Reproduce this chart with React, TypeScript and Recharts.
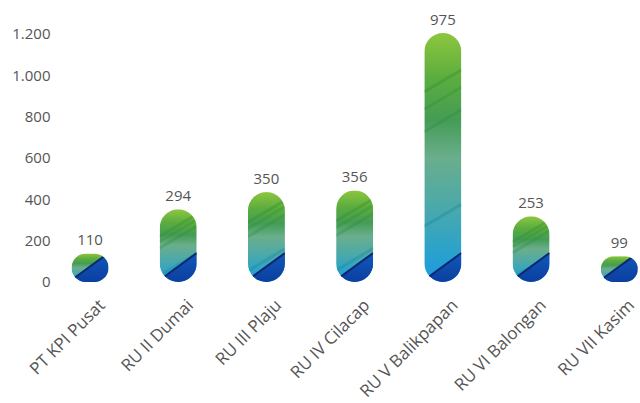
import { BarChart, Bar, XAxis, YAxis, LabelList } from 'recharts';

const units = ['PT KPI Pusat', 'RU II Dumai', 'RU III Plaju', 'RU IV Cilacap', 'RU V Balikpapan', 'RU VI Balongan', 'RU VII Kasim'];
const labels = [110, 294, 350, 356, 975, 253, 99];
// drawn heights as they appear against the axis (taller than the labels)
const heights = [138, 352, 435, 443, 1205, 318, 125];
const yTicks = [0, 200, 400, 600, 800, 1000, 1200];

const data = units.map((name, i) => ({ name, label: labels[i], height: heights[i] }));

const fmt = (v: number) => v.toLocaleString('de-DE');

const FONT = '"Open Sans", sans-serif';

// faint diagonal streaks, as fractions of bar height
const streaks = [
    { at: 0.18, color: '#2f8f2a', op: 0.35 },
    { at: 0.25, color: '#2f8f2a', op: 0.3 },
    { at: 0.34, color: '#2a8a3a', op: 0.3 },
    { at: 0.72, color: '#13869a', op: 0.35 },
];

const PillBar = (props: any) => {
    const { x, y, width, height, index } = props;
    if (!height || height <= 0) return null;
    const r = Math.min(width / 2, height / 2);
    const id = `pill-${index}`;
    const bottom = y + height;
    return (
        <g>
            <defs>
                <clipPath id={id}>
                    <rect x={x} y={y} width={width} height={height} rx={r} ry={r} />
                </clipPath>
            </defs>
            <g clipPath={`url(#${id})`}>
                <rect x={x} y={y} width={width} height={height} fill="url(#pillGrad)" />
                {height > 60 &&
                    streaks.map((s, i) => {
                        const yy = y + height * s.at;
                        return (
                            <line
                                key={i}
                                x1={x}
                                y1={yy + 14}
                                x2={x + width}
                                y2={yy - 8}
                                stroke={s.color}
                                strokeOpacity={s.op}
                                strokeWidth={3}
                            />
                        );
                    })}
                <polygon
                    points={`${x},${bottom} ${x},${bottom - 2} ${x + width},${bottom - 29} ${x + width},${bottom}`}
                    fill="url(#deepGrad)"
                />
                <line x1={x} y1={bottom - 2} x2={x + width} y2={bottom - 29} stroke="#0a2770" strokeWidth={2} />
            </g>
        </g>
    );
};

const XTick = (props: any) => {
    const { x, y, payload } = props;
    return (
        <g transform={`translate(${x + 8},${y + 8})`}>
            <text
                transform="rotate(-45)"
                textAnchor="end"
                dy="0.7em"
                fill="#555"
                fontSize={17}
                fontFamily={FONT}
            >
                {payload.value}
            </text>
        </g>
    );
};

const App = () => {
    return (
        <div style={{ position: 'absolute', left: 0, top: 0, width: 640, height: 403, overflow: 'hidden', background: '#fff' }}>
            <BarChart width={680} height={403} data={data} margin={{ top: 33, right: 17, bottom: 0, left: 0 }}>
                <defs>
                    <linearGradient id="pillGrad" x1="0" y1="0" x2="0" y2="1">
                        <stop offset="0%" stopColor="#8dc63f" />
                        <stop offset="18%" stopColor="#5cad3e" />
                        <stop offset="35%" stopColor="#449c55" />
                        <stop offset="50%" stopColor="#6aae8c" />
                        <stop offset="70%" stopColor="#4ba9aa" />
                        <stop offset="88%" stopColor="#2aa2cc" />
                        <stop offset="100%" stopColor="#1c9be0" />
                    </linearGradient>
                    <linearGradient id="deepGrad" x1="0" y1="0" x2="0" y2="1">
                        <stop offset="0%" stopColor="#1158bb" />
                        <stop offset="100%" stopColor="#0b3f9f" />
                    </linearGradient>
                </defs>
                <XAxis
                    dataKey="name"
                    interval={0}
                    axisLine={false}
                    tickLine={false}
                    height={121}
                    tick={<XTick />}
                />
                <YAxis
                    width={45.5}
                    domain={[0, 1200]}
                    ticks={yTicks}
                    tickFormatter={fmt}
                    axisLine={false}
                    tickLine={false}
                    tickSize={0}
                    tickMargin={-5}
                    tick={{ fill: '#555', fontSize: 15, fontFamily: FONT }}
                />
                <Bar dataKey="height" barSize={37} shape={<PillBar />} isAnimationActive={false}>
                    <LabelList
                        dataKey="label"
                        position="top"
                        offset={8}
                        style={{ fill: '#555', fontSize: 15, fontFamily: FONT }}
                    />
                </Bar>
            </BarChart>
        </div>
    );
};

export default App;
